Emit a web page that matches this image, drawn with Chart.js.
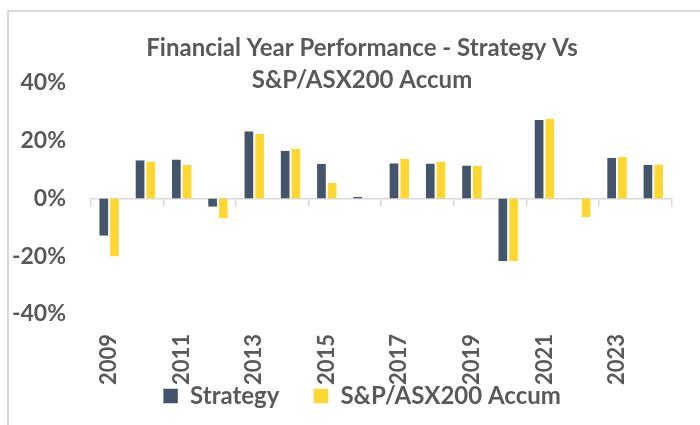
<!DOCTYPE html>
<html>
<head>
<meta charset="utf-8">
<script src="https://cdn.jsdelivr.net/npm/chart.js@4"></script>
<style>
  html, body { margin: 0; padding: 0; background: #fff; }
  #frame { position: absolute; left: 7px; top: 10px; width: 720px; height: 440px;
           border-top: 2px solid #d9d9d9; border-left: 2px solid #d9d9d9; }
  #c { position: absolute; left: 0; top: 0; }
</style>
</head>
<body>
<div id="frame"><canvas id="c" width="691" height="413"></canvas></div>
<script>
const years = ['2009','2010','2011','2012','2013','2014','2015','2016','2017','2018','2019','2020','2021','2022','2023','2024'];
const strategy = [-12.9, 13.2, 13.5, -2.9, 23.3, 16.5, 12.0, 0.6, 12.2, 12.1, 11.4, -21.7, 27.2, 0.1, 14.1, 11.7];
const asx200 = [-20.1, 12.8, 11.6, -6.8, 22.4, 17.2, 5.4, 0.2, 13.8, 12.8, 11.3, -21.7, 27.5, -6.4, 14.4, 11.8];
const yTicks = [-40, -20, 0, 20, 40];
const titleLines = ['Financial Year Performance - Strategy Vs', 'S&P/ASX200 Accum'];

const textColor = '#595959';
const axisGray = '#d9d9d9';
const fontFamily = 'Lato, "Open Sans", sans-serif';

// Let axis labels extend beyond their (deliberately compact) layout boxes, as in the original.
const unclipLabels = {
  id: 'unclipLabels',
  afterLayout(chart) {
    chart.scales.y.left = 0;
    chart.scales.x2.bottom = chart.height;
  }
};

new Chart(document.getElementById('c'), {
  type: 'bar',
  plugins: [unclipLabels],
  data: {
    labels: years,
    datasets: [
      { label: 'Strategy', data: strategy, backgroundColor: '#44546A', borderColor: '#ffffff',
        borderWidth: { left: 1, right: 1, top: 0, bottom: 0 }, borderSkipped: false },
      { label: 'S&P/ASX200 Accum', data: asx200, backgroundColor: '#FFD733', borderColor: '#ffffff',
        borderWidth: { left: 1, right: 1, top: 0, bottom: 0 }, borderSkipped: false }
    ]
  },
  options: {
    responsive: false,
    animation: false,
    layout: { padding: { left: 25, right: 10, top: 0, bottom: 7 } },
    datasets: { bar: { categoryPercentage: 0.59, barPercentage: 1.0 } },
    plugins: {
      title: {
        display: true,
        text: titleLines,
        color: textColor,
        font: { family: fontFamily, size: 24, weight: 'bold', lineHeight: 1.333 },
        padding: { top: 20, bottom: -13 }
      },
      legend: {
        position: 'bottom',
        labels: {
          color: textColor,
          boxWidth: 15, boxHeight: 15,
          padding: 34,
          font: { family: fontFamily, size: 24, weight: 'bold' }
        }
      },
      tooltip: { enabled: false }
    },
    scales: {
      x: {
        type: 'category',
        position: { y: 0 },
        offset: true,
        ticks: { display: false },
        grid: {
          display: true, drawOnChartArea: false, drawTicks: true, tickLength: 7, offset: true,
          lineWidth: 1.5,
          color: (ctx) => (ctx.index === undefined || ctx.index % 2 === 0) ? axisGray : 'rgba(0,0,0,0)'
        },
        border: { display: true, color: axisGray, width: 1.5 }
      },
      x2: {
        type: 'category',
        position: 'bottom',
        offset: true,
        afterFit: (s) => { s.height = 36; },
        grid: { display: false, drawTicks: false },
        border: { display: false },
        ticks: {
          autoSkip: false, minRotation: 90, maxRotation: 90, padding: 20,
          color: textColor,
          font: { family: fontFamily, size: 22, weight: 'bold' },
          callback: (v, i) => (i % 2 === 0 ? years[i] : '')
        }
      },
      y: {
        min: -40, max: 40,
        afterBuildTicks: (s) => { s.ticks = yTicks.map(v => ({ value: v })); },
        afterFit: (s) => { s.width = 57; },
        grid: { display: false, drawTicks: false },
        border: { display: false },
        ticks: {
          padding: 25,
          color: textColor,
          font: { family: fontFamily, size: 23, weight: 'bold' },
          callback: (v) => v + '%'
        }
      }
    }
  }
});
</script>
</body>
</html>
